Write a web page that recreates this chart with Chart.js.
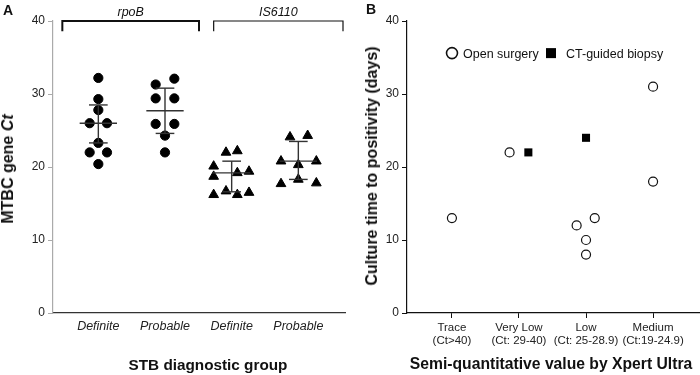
<!DOCTYPE html>
<html>
<head>
<meta charset="utf-8">
<script src="https://cdn.jsdelivr.net/npm/chart.js@4.4.0/dist/chart.umd.min.js"></script>
<style>
body { margin: 0; background: #fff; font-family: "Liberation Sans", Arial, sans-serif; }
#wrap { position: relative; width: 700px; height: 375px; overflow: hidden; }
canvas { position: absolute; top: 0; }
.lbl { position: absolute; color: #111; white-space: nowrap; line-height: 1; }
.ytitle { transform: translate(-50%, -50%) rotate(-90deg); font-weight: bold; font-size: 16px; }
.xtitle { transform: translate(-50%, -50%); font-weight: bold; font-size: 15.3px; }
.panel { font-weight: bold; font-size: 14px; }
</style>
</head>
<body>
<div id="wrap">
  <canvas id="chartA" width="350" height="375" style="left:0"></canvas>
  <canvas id="chartB" width="350" height="375" style="left:350px"></canvas>
  <div class="lbl panel" style="left:3px; top:3px">A</div>
  <div class="lbl panel" style="left:366px; top:2px">B</div>
  <div class="lbl ytitle" style="left:8px; top:169px">MTBC gene <i>Ct</i></div>
  <div class="lbl xtitle" style="left:208px; top:365px">STB diagnostic group</div>
  <div class="lbl ytitle" style="left:372px; top:166px">Culture time to positivity (days)</div>
  <div class="lbl xtitle" style="left:551px; top:364px; font-size:15.7px">Semi-quantitative value by Xpert Ultra</div>
</div>
<script>
// ---- panel A data (x = group index + jitter, y = Ct) ----
const groupLabels = ['Definite', 'Probable', 'Definite', 'Probable'];
const rpoBDefinite = [[1, 32.2], [1, 29.3], [1, 27.8], [0.87, 26.0], [1.13, 26.0], [1, 23.3], [0.87, 22.0], [1.13, 22.0], [1, 20.4]];
const rpoBProbable = [[1.86, 31.3], [2.14, 32.1], [1.86, 29.4], [2.14, 29.4], [1.86, 25.9], [2.14, 25.9], [2, 24.3], [2, 22.0]];
const is6110Definite = [[2.915, 22.0], [3.085, 22.2], [2.73, 20.1], [2.73, 18.7], [3.085, 19.2], [3.26, 19.4], [2.73, 16.2], [2.915, 16.7], [3.085, 16.2], [3.26, 16.5]];
const is6110Probable = [[3.875, 24.1], [4.14, 24.3], [3.74, 20.8], [4, 20.3], [4.27, 20.8], [4, 18.3], [3.74, 17.7], [4.27, 17.8]];
const groupMean = [26.0, 27.7, 19.2, 20.8];
const groupSdHigh = [28.5, 30.8, 20.8, 23.5];
const groupSdLow = [23.3, 24.6, 16.6, 18.3];
const targetNames = ['rpoB', 'IS6110'];

// ---- panel B data ----
const xpertLabels = [['Trace', '(Ct>40)'], ['Very Low', '(Ct: 29-40)'], ['Low', '(Ct: 25-28.9)'], ['Medium', '(Ct:19-24.9)']];
const openSurgery = [[1, 13], [1.86, 22], [2.86, 12], [3.13, 13], [3, 10], [3, 8], [4, 31], [4, 18]];
const ctBiopsy = [[2.14, 22], [3, 24]];
const seriesNames = ['Open surgery', 'CT-guided biopsy'];

const FONT = '"Liberation Sans", Arial, sans-serif';
const toPts = arr => arr.map(p => ({ x: p[0], y: p[1] }));

function yAxis(color, width) {
  return {
    min: 0, max: 40,
    ticks: { stepSize: 10, color: '#222', padding: 3, font: { family: FONT, size: 12 } },
    grid: { drawOnChartArea: false, tickLength: 5, color: color },
    border: { display: true, color: color, width: 1.2 },
    afterFit: s => { s.width = width; }
  };
}

const errorBars = {
  id: 'errorBars',
  afterDatasetsDraw(chart) {
    const { ctx, scales: { x, y } } = chart;
    ctx.save();
    ctx.strokeStyle = '#333';
    ctx.lineWidth = 1.4;
    groupMean.forEach((m, i) => {
      const c = i + 1;
      const line = (x0, y0, x1, y1) => { ctx.beginPath(); ctx.moveTo(x0, y0); ctx.lineTo(x1, y1); ctx.stroke(); };
      const cx = x.getPixelForValue(c);
      line(x.getPixelForValue(c - 0.28), y.getPixelForValue(m), x.getPixelForValue(c + 0.28), y.getPixelForValue(m));
      line(cx, y.getPixelForValue(groupSdHigh[i]), cx, y.getPixelForValue(groupSdLow[i]));
      [groupSdHigh[i], groupSdLow[i]].forEach(v => {
        line(x.getPixelForValue(c - 0.14), y.getPixelForValue(v), x.getPixelForValue(c + 0.14), y.getPixelForValue(v));
      });
    });
    ctx.restore();
  }
};

const brackets = {
  id: 'brackets',
  afterDraw(chart) {
    const { ctx, scales: { x, y } } = chart;
    const spans = [[0.46, 2.51, 2], [2.73, 4.67, 1.2]];
    const top = y.getPixelForValue(40), foot = y.getPixelForValue(38.6);
    ctx.save();
    ctx.strokeStyle = '#111';
    spans.forEach((s, i) => {
      const a = x.getPixelForValue(s[0]), b = x.getPixelForValue(s[1]);
      ctx.lineWidth = s[2];
      ctx.beginPath();
      ctx.moveTo(a, foot); ctx.lineTo(a, top); ctx.lineTo(b, top); ctx.lineTo(b, foot);
      ctx.stroke();
      ctx.fillStyle = '#111';
      ctx.font = 'italic 12.5px ' + FONT;
      ctx.textAlign = 'center';
      ctx.textBaseline = 'middle';
      ctx.fillText(targetNames[i], (a + b) / 2, top - 8);
    });
    ctx.restore();
  }
};

const legendB = {
  id: 'legendB',
  afterDraw(chart) {
    const { ctx, chartArea: area, scales: { y } } = chart;
    const ly = y.getPixelForValue(35.6);
    ctx.save();
    ctx.strokeStyle = '#111';
    ctx.lineWidth = 1.6;
    ctx.beginPath();
    ctx.arc(area.left + 45, ly, 5.5, 0, Math.PI * 2);
    ctx.stroke();
    ctx.fillStyle = '#000';
    ctx.fillRect(area.left + 139, ly - 5, 10, 10);
    ctx.fillStyle = '#111';
    ctx.font = '12.5px ' + FONT;
    ctx.textBaseline = 'middle';
    ctx.fillText(seriesNames[0], area.left + 56, ly + 1.5);
    ctx.fillText(seriesNames[1], area.left + 159, ly + 1.5);
    ctx.restore();
  }
};

new Chart(document.getElementById('chartA'), {
  type: 'scatter',
  data: {
    datasets: [
      { data: toPts(rpoBDefinite), pointStyle: 'circle', pointRadius: 4.6 },
      { data: toPts(rpoBProbable), pointStyle: 'circle', pointRadius: 4.6 },
      { data: toPts(is6110Definite), pointStyle: 'triangle', pointRadius: 5.6 },
      { data: toPts(is6110Probable), pointStyle: 'triangle', pointRadius: 5.6 }
    ].map(d => Object.assign(d, { backgroundColor: '#000', borderColor: '#000', borderWidth: 1 }))
  },
  options: {
    responsive: false,
    animation: false,
    layout: { autoPadding: false, padding: { left: 0, top: 21, right: 5, bottom: 0 } },
    plugins: { legend: { display: false }, tooltip: { enabled: false } },
    scales: {
      x: {
        type: 'linear', min: 0.32, max: 4.7,
        afterBuildTicks: s => { s.ticks = groupLabels.map((_, i) => ({ value: i + 1 })); },
        afterFit: s => { s.height = 62; },
        grid: { drawOnChartArea: false, drawTicks: false },
        border: { display: true, color: '#333', width: 1.2 },
        ticks: { callback: v => groupLabels[v - 1], color: '#222', padding: 6, maxRotation: 0, autoSkip: false,
                 font: { family: FONT, size: 12.5, style: 'italic' } }
      },
      y: yAxis('#aaa', 53)
    }
  },
  plugins: [errorBars, brackets]
});

new Chart(document.getElementById('chartB'), {
  type: 'scatter',
  data: {
    datasets: [
      { data: toPts(openSurgery), pointStyle: 'circle', pointRadius: 4.5, backgroundColor: '#fff', borderColor: '#111', borderWidth: 1.2 },
      { data: toPts(ctBiopsy), pointStyle: 'rect', pointRadius: 5.7, backgroundColor: '#000', borderColor: '#000', borderWidth: 0 }
    ]
  },
  options: {
    responsive: false,
    animation: false,
    layout: { autoPadding: false, padding: { left: 0, top: 21, right: 0, bottom: 0 } },
    plugins: { legend: { display: false }, tooltip: { enabled: false } },
    scales: {
      x: {
        type: 'linear', min: 0.33, max: 4.7,
        afterBuildTicks: s => { s.ticks = xpertLabels.map((_, i) => ({ value: i + 1 })); },
        afterFit: s => { s.height = 62; },
        grid: { drawOnChartArea: false, tickLength: 5, color: '#111' },
        border: { display: true, color: '#111', width: 1.2 },
        ticks: { callback: v => xpertLabels[v - 1], color: '#222', padding: 3, maxRotation: 0, autoSkip: false,
                 font: { family: FONT, size: 11.5, lineHeight: 1.15 } }
      },
      y: yAxis('#111', 57)
    }
  },
  plugins: [legendB]
});
</script>
</body>
</html>
